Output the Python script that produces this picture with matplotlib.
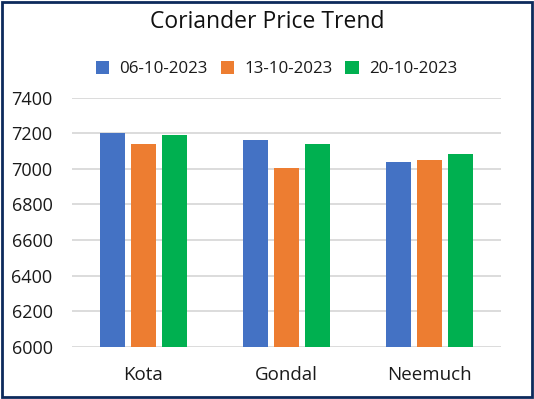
import matplotlib.pyplot as plt
import numpy as np
from matplotlib.patches import Rectangle

markets = ['Kota', 'Gondal', 'Neemuch']
dates = ['06-10-2023', '13-10-2023', '20-10-2023']
price_06 = [7200, 7160, 7040]
price_13 = [7140, 7005, 7050]
price_20 = [7190, 7140, 7085]
colors = ['#4472c4', '#ed7d31', '#00b050']

plt.rcParams['font.family'] = ['Open Sans', 'DejaVu Sans']

fig = plt.figure(figsize=(5.34, 3.99), dpi=100)
ax = fig.add_axes([0.1348, 0.131, 0.938 - 0.1348, 0.7556 - 0.131])

x = np.arange(len(markets))
w = 0.175
step = 0.217
for i, (vals, lab) in enumerate(zip([price_06, price_13, price_20], dates)):
    ax.bar(x + (i - 1) * step, vals, width=w, color=colors[i], label=lab, zorder=3)

ax.set_ylim(6000, 7400)
ax.set_xlim(-0.5, 2.5)
ax.set_yticks(range(6000, 7401, 200))
ax.set_xticks(x)
ax.set_xticklabels(markets)
ax.grid(axis='y', color='#d9d9d9', lw=1.3, zorder=0)
for s in ax.spines.values():
    s.set_visible(False)
ax.tick_params(length=0, colors='#1a1a1a')
ax.tick_params(axis='x', pad=14, labelsize=13.5)
ax.tick_params(axis='y', pad=14, labelsize=13)

fig.text(0.5, 0.945, 'Coriander Price Trend', ha='center', va='center', fontsize=16.5, color='#111111')
fig.legend(loc='center', bbox_to_anchor=(0.518, 0.827), ncol=3, frameon=False,
           fontsize=12.2, handlelength=0.8, handleheight=0.8, handletextpad=0.6,
           columnspacing=0.75, labelcolor='#1a1a1a')

fig.patches.append(Rectangle((0.004, 0.004), 0.992, 0.992, transform=fig.transFigure,
                             fill=False, edgecolor='#0d2a5c', lw=2))

fig.savefig('out.png', dpi=100)
